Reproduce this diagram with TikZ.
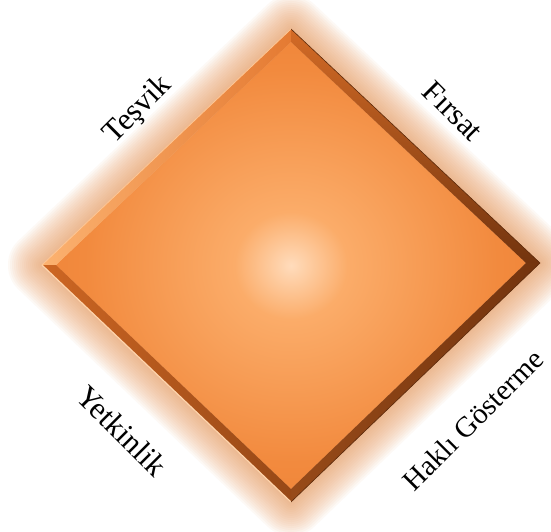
\documentclass[tikz,border=0pt]{standalone}
\usepackage{fontspec}
\setmainfont{Liberation Serif}
\definecolor{glowc}{RGB}{235,155,95}
\definecolor{cA}{RGB}{255,220,188}
\definecolor{cB}{RGB}{251,172,105}
\definecolor{cC}{RGB}{242,138,62}
\definecolor{cD}{RGB}{236,126,50}
\definecolor{bevL}{RGB}{252,178,112}
\definecolor{bevLd}{RGB}{228,122,50}
\definecolor{bevD}{RGB}{115,52,14}
\definecolor{bevM}{RGB}{205,102,35}
\definecolor{edgeL}{RGB}{255,212,172}
\pgfdeclareradialshading{diafill}{\pgfpoint{0bp}{0bp}}{color(0bp)=(cA); color(6bp)=(cB); color(22bp)=(cC); color(36bp)=(cD); color(50bp)=(cD)}
\tikzset{lbl/.style={font=\fontsize{31}{31}\selectfont, text=black, inner sep=0pt},
         lblsm/.style={lbl, font=\fontsize{29}{29}\selectfont}}
\begin{document}
\begin{tikzpicture}[x=1pt,y=-1pt]
\useasboundingbox (0,0) rectangle (551,532);
\fill[white] (0,0) rectangle (551,532);
\coordinate (T) at (291,29);
\coordinate (L) at (42,265);
\coordinate (R) at (540,263);
\coordinate (B) at (291,502);
\coordinate (Ti) at (291,42);
\coordinate (Li) at (56,265);
\coordinate (Ri) at (526,263);
\coordinate (Bi) at (291,489);
% glow
\foreach \w in {68,64,...,4}{
  \draw[glowc, line width=\w pt, line join=round, opacity=0.06] (T) -- (R) -- (B) -- (L) -- cycle;
}
\fill[glowc!70!white] (T) -- (R) -- (B) -- (L) -- cycle;
% main face
\shade[shading=diafill] (Ti) -- (Ri) -- (Bi) -- (Li) -- cycle;
% bevel facets
\shade[left color=bevL, right color=bevLd] (T) -- (Ti) -- (Li) -- (L) -- cycle;
\shade[top color=bevM!80!cD, bottom color=bevD] (T) -- (R) -- (Ri) -- (Ti) -- cycle;
\shade[left color=bevD!70!cD, right color=bevD] (R) -- (B) -- (Bi) -- (Ri) -- cycle;
\shade[left color=bevM, right color=bevD!60!bevM] (B) -- (L) -- (Li) -- (Bi) -- cycle;
\draw[edgeL, line width=1.2pt] (L) -- (B);
\draw[edgeL!60!bevL, line width=0.8pt] (L) -- (T);
\draw[bevD!80!black, line width=0.6pt] (T) -- (R) -- (B);
% labels
\node[lbl, rotate=45] (tesvik) at (138,110) {Teşvik};
\node[lbl, rotate=-45] (firsat) at (453,111) {Fırsat};
\node[lbl, rotate=-45] (yetkinlik) at (122,431) {Yetkinlik};
\node[lblsm, rotate=45] (hakli) at (473,420) {Haklı Gösterme};
\end{tikzpicture}
\end{document}
